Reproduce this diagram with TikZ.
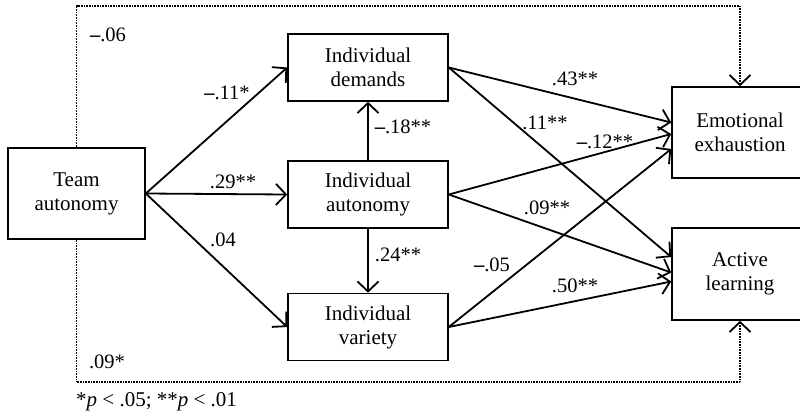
\documentclass[tikz,border=0pt]{standalone}
\usepackage{fontspec}
\setmainfont{Liberation Serif}
\usetikzlibrary{arrows.meta,calc}
\newcommand{\mdash}{\textbf{–}}
\begin{document}
\begin{tikzpicture}[x=1pt,y=-1pt,
  box/.style={draw,line width=1.6pt,rectangle,align=center,inner sep=0pt,font=\fontsize{21}{24}\selectfont},
  conn/.style={line width=1.8pt,-{Straight Barb[length=10pt,width=21pt,line width=1.8pt]}},
  dotconn/.style={line width=1.5pt,dash pattern=on 0.8pt off 0.8pt,-{Straight Barb[length=10pt,width=21pt,line width=1.8pt]}},
  lab/.style={inner sep=0pt,font=\fontsize{20.5}{24}\selectfont}]
\useasboundingbox (0,0) rectangle (800,418);
\clip (0,0) rectangle (800,418);
\node[box,minimum width=137pt,minimum height=91pt] (team) at (76.5,193.5) {Team\\autonomy};
\node[box,minimum width=160pt,minimum height=67pt] (dem) at (368,67.5) {Individual\\demands};
\node[box,minimum width=160pt,minimum height=67pt] (aut) at (368,194.5) {Individual\\autonomy};
\node[box,minimum width=160pt,minimum height=67pt] (var) at (368,327) {Individual\\variety};
\node[box,minimum width=136pt,minimum height=91pt] (ee) at (740,132.5) {Emotional\\exhaustion};
\node[box,minimum width=136pt,minimum height=92pt] (al) at (740,274) {Active\\learning};
% team paths
\draw[conn] (team.east) -- (dem.west);
\draw[conn] (team.east) -- (aut.west);
\draw[conn] (team.east) -- (var.west);
% vertical
\draw[conn] (aut.north) -- (dem.south);
\draw[conn] (aut.south) -- (var.north);
% to outcomes
\draw[conn] (dem.east) -- ($(ee.west)+(0,-10)$);
\draw[conn] (dem.east) -- ($(al.west)+(0,-17)$);
\draw[conn] (aut.east) -- ($(ee.west)+(0,1.5)$);
\draw[conn] (aut.east) -- ($(al.west)+(0,-1.5)$);
\draw[conn] (var.east) -- ($(ee.west)+(0,16.5)$);
\draw[conn] (var.east) -- ($(al.west)+(0,7.5)$);
% dotted direct paths
\coordinate (tl) at (76.5,6);
\coordinate (bl) at (76.5,382);
\draw[dotconn] (team.north) -- (tl) -| (ee.north);
\draw[dotconn] (team.south) -- (bl) -| (al.south);
% labels
\node[lab] (l1) at (108,35) {\mdash.06};
\node[lab] (l2) at (227,93) {\mdash.11*};
\node[lab] (l3) at (233,182) {.29**};
\node[lab] (l4) at (223,240) {.04};
\node[lab] (l5) at (107,362) {.09*};
\node[lab] (l6) at (575,79) {.43**};
\node[lab] (l7) at (545,123) {.11**};
\node[lab] (l8) at (403,127) {\mdash.18**};
\node[lab] (l9) at (605,142) {\mdash.12**};
\node[lab] (l10) at (547,208) {.09**};
\node[lab] (l11) at (398,255) {.24**};
\node[lab] (l12) at (492,265) {\mdash.05};
\node[lab] (l13) at (575,286) {.50**};
\node[lab,anchor=west,font=\fontsize{21}{24}\selectfont] (fn) at (76,402) {*\textit{p} < .05; **\textit{p} < .01};
\end{tikzpicture}
\end{document}
